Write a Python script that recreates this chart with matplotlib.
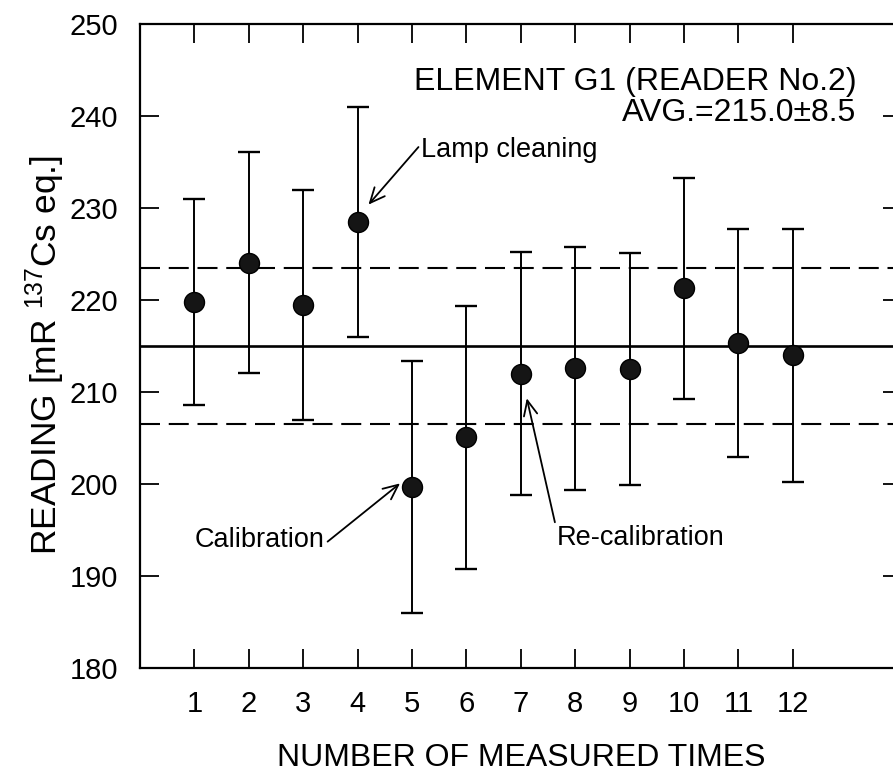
import matplotlib
matplotlib.use("Agg")
import matplotlib.pyplot as plt

plt.rcParams['font.family'] = ['Liberation Sans', 'DejaVu Sans']
plt.rcParams['mathtext.fontset'] = 'custom'
plt.rcParams['mathtext.rm'] = 'Liberation Sans'
plt.rcParams['mathtext.it'] = 'Liberation Sans'
plt.rcParams['mathtext.default'] = 'regular'

# Readings of element G1 on reader No.2
measurement = [1, 2, 3, 4, 5, 6, 7, 8, 9, 10, 11, 12]
reading = [219.8, 224.1, 219.5, 228.5, 199.7, 205.1, 212.0, 212.6, 212.5, 221.3, 215.4, 214.0]
reading_err = [11.2, 12.0, 12.5, 12.5, 13.7, 14.3, 13.2, 13.2, 12.6, 12.0, 12.4, 13.7]
avg_value = 215.0
avg_sd = 8.5
y_ticks = [180, 190, 200, 210, 220, 230, 240, 250]

fig = plt.figure(figsize=(8.93, 7.78), dpi=100)
ax = fig.add_axes([140 / 893, (778 - 668.3) / 778, 761.6 / 893, 644 / 778])

ax.set_xlim(0, 14)
ax.set_ylim(180, 250)

# average and +/- one standard deviation band
ax.axhline(avg_value, color='black', lw=1.9, zorder=1)
ax.axhline(avg_value + avg_sd, color='black', lw=1.5, ls=(0, (9.6, 4.2)), zorder=1)
ax.axhline(avg_value - avg_sd, color='black', lw=1.5, ls=(0, (9.6, 4.2)), zorder=1)

ax.errorbar(measurement, reading, yerr=reading_err, fmt='o', color='black',
            markerfacecolor='#151515', markeredgecolor='black', markersize=14.4,
            elinewidth=1.4, capsize=7.8, capthick=1.7, zorder=3)

ax.set_xticks(measurement)
ax.set_xticklabels([str(m) for m in measurement])
ax.set_yticks(y_ticks)
ax.set_yticklabels([str(t) for t in y_ticks])
ax.tick_params(axis='both', direction='in', length=13.7, width=1.3,
               labelsize=21, pad=15.5, top=True, right=True)

for side in ['left', 'bottom', 'top', 'right']:
    ax.spines[side].set_linewidth(1.6)

ax.set_xlabel('NUMBER OF MEASURED TIMES', fontsize=23, va='center')
ax.xaxis.set_label_coords(0.5, -0.139)
ax.set_ylabel('READING [mR $^{137}$Cs eq.]', fontsize=25.5, va='center')
ax.yaxis.set_label_coords(-0.125, 0.486)

ax.text(13.17, 243.75, 'ELEMENT G1 (READER No.2)', fontsize=23, ha='right', va='center')
ax.text(13.17, 240.35, 'AVG.=215.0\u00b18.5', fontsize=23, ha='right', va='center')

arrow = dict(arrowstyle='->,head_length=0.55,head_width=0.25', color='black',
             lw=1.3, shrinkA=0, shrinkB=0)
ax.annotate('Lamp cleaning', xy=(4.20, 230.4), xytext=(5.17, 236.3),
            fontsize=19.5, ha='left', va='center',
            arrowprops=dict(arrow, relpos=(0.0, 0.75)))
ax.annotate('Calibration', xy=(4.78, 200.1), xytext=(1.01, 193.95),
            fontsize=19.5, ha='left', va='center',
            arrowprops=dict(arrow, relpos=(1.0, 0.35)))
ax.annotate('Re-calibration', xy=(7.11, 209.35), xytext=(7.66, 194.16),
            fontsize=19.5, ha='left', va='center',
            arrowprops=dict(arrow, relpos=(0.0, 0.8)))

fig.savefig('out.png', dpi=100)
